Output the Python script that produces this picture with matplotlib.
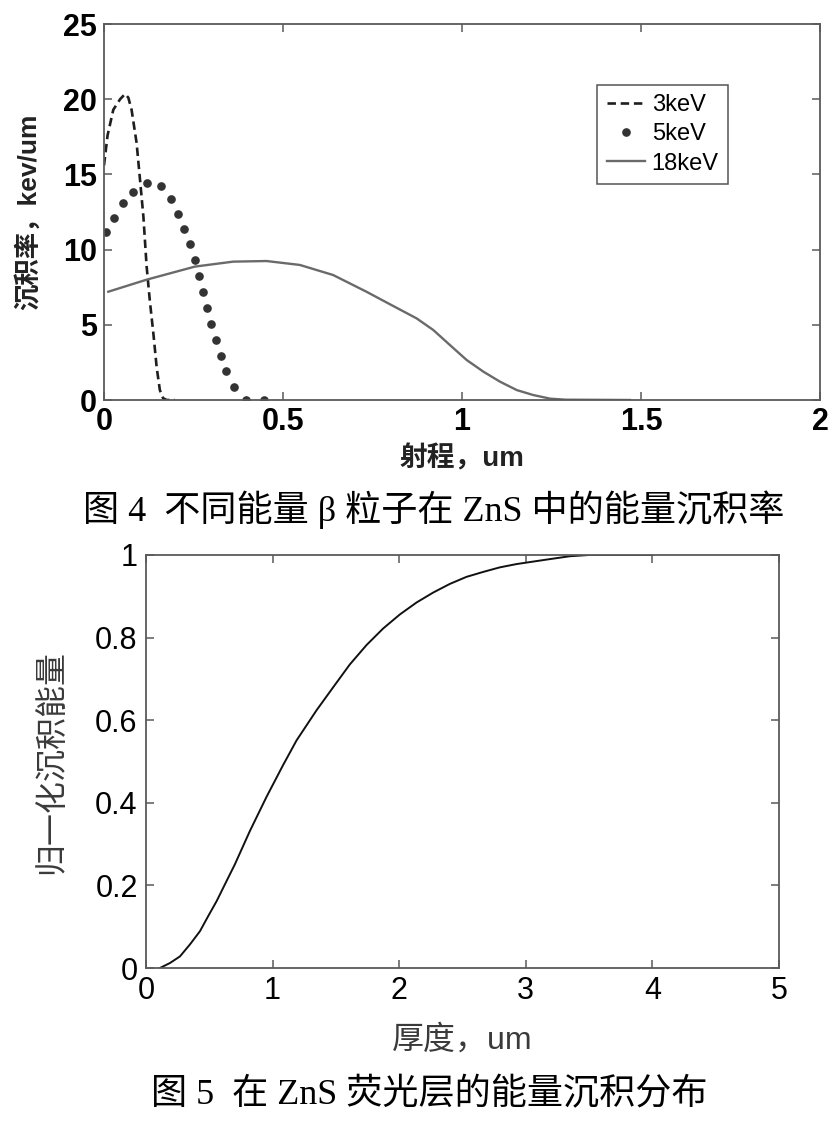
import matplotlib
matplotlib.use("Agg")
import matplotlib.pyplot as plt

plt.rcParams["font.family"] = ["Liberation Sans", "Noto Sans CJK SC", "DejaVu Sans"]

# ---- data: figure 4 (energy deposition rate) ----
x_3kev = [0, 0.01, 0.026, 0.045, 0.059, 0.068, 0.077, 0.091, 0.1, 0.11, 0.119,
          0.128, 0.138, 0.147, 0.156, 0.165, 0.175, 0.198]
y_3kev = [15.6, 17.6, 19.3, 20.0, 20.35, 20.1, 19.3, 17.1, 14.8, 12.2, 8.9,
          6.6, 4.4, 2.2, 0.66, 0.12, 0, 0]

x_5kev = [0.006, 0.028, 0.052, 0.082, 0.119, 0.158, 0.186, 0.208, 0.224, 0.240,
          0.254, 0.266, 0.277, 0.289, 0.300, 0.313, 0.326, 0.341, 0.363, 0.397, 0.448]
y_5kev = [11.2, 12.1, 13.1, 13.85, 14.45, 14.2, 13.35, 12.4, 11.4, 10.35,
          9.3, 8.25, 7.15, 6.1, 5.05, 4.0, 2.9, 1.9, 0.85, 0, 0]

x_18kev = [0.012, 0.119, 0.254, 0.361, 0.454, 0.547, 0.640, 0.733, 0.80, 0.873,
           0.92, 0.966, 1.013, 1.06, 1.106, 1.153, 1.199, 1.246, 1.29, 1.469]
y_18kev = [7.2, 8.0, 8.87, 9.2, 9.24, 8.98, 8.31, 7.2, 6.35, 5.43,
           4.65, 3.66, 2.66, 1.88, 1.22, 0.66, 0.33, 0.09, 0.02, 0]

# ---- data: figure 5 (normalised deposited energy) ----
x_norm = [0.11, 0.189, 0.268, 0.347, 0.426, 0.492, 0.558, 0.637, 0.702, 0.821,
          0.953, 1.084, 1.189, 1.347, 1.479, 1.61, 1.742, 1.873, 2.005, 2.137,
          2.268, 2.4, 2.531, 2.663, 2.794, 2.926, 3.057, 3.189, 3.347, 3.5, 4.0]
y_norm = [0, 0.012, 0.028, 0.057, 0.089, 0.126, 0.162, 0.211, 0.251, 0.332,
          0.415, 0.492, 0.551, 0.624, 0.680, 0.735, 0.782, 0.822, 0.856, 0.885,
          0.909, 0.930, 0.947, 0.959, 0.970, 0.978, 0.984, 0.990, 0.997, 1.0, 1.0]

caption4 = "图 4  不同能量 β 粒子在 ZnS 中的能量沉积率"
caption5 = "图 5  在 ZnS 荧光层的能量沉积分布"

spine_c = "#5a5a5a"
cap_family = ["Liberation Serif", "Noto Sans CJK SC"]


def style_axes(ax):
    for s in ax.spines.values():
        s.set_color(spine_c)
        s.set_linewidth(1.3)
    ax.tick_params(direction="in", top=True, right=True, length=6,
                   width=1.1, color=spine_c)


fig = plt.figure(figsize=(8.34, 11.28), dpi=100)

# top panel
ax1 = fig.add_axes([104 / 834, 1 - 400 / 1128, 716 / 834, 376 / 1128])
ax1.plot(x_3kev, y_3kev, color="#1e1e1e", lw=1.9, linestyle=(0, (3.2, 1.8)),
         label="3keV")
ax1.plot(x_5kev, y_5kev, linestyle="none", marker="o", markersize=5.2,
         color="#333333", label="5keV")
ax1.plot(x_18kev, y_18kev, color="#6a6a6a", lw=1.7, label="18keV")
ax1.set_xlim(0, 2)
ax1.set_ylim(0, 25)
ax1.set_xticks([0, 0.5, 1, 1.5, 2])
ax1.set_xticklabels(["0", "0.5", "1", "1.5", "2"])
ax1.set_yticks([0, 5, 10, 15, 20, 25])
style_axes(ax1)
ax1.tick_params(labelsize=22, pad=5)
for t in ax1.get_xticklabels() + ax1.get_yticklabels():
    t.set_fontweight("bold")
ax1.set_ylabel("沉积率，kev/um", fontsize=19, fontweight="bold", color="#222222")
ax1.yaxis.set_label_coords(-0.088, 0.5)
ax1.set_xlabel("射程，um", fontsize=20, fontweight="bold", color="#222222")
ax1.xaxis.set_label_coords(0.5, -0.12)
leg = ax1.legend(loc="upper left", bbox_to_anchor=(0.689, 0.838), fontsize=17,
                 numpoints=1, handlelength=1.6, handletextpad=0.3,
                 labelspacing=0.3, borderpad=0.4, borderaxespad=0,
                 fancybox=False, framealpha=1, edgecolor="#555555")
leg.get_frame().set_linewidth(1.1)

fig.text(0.52, 1 - 510 / 1128, caption4, ha="center", va="center",
         fontsize=26, family=cap_family)

# bottom panel
ax2 = fig.add_axes([146 / 834, 1 - 968 / 1128, 633 / 834, 413 / 1128])
ax2.plot(x_norm, y_norm, color="#111111", lw=1.4)
ax2.set_xlim(0, 5)
ax2.set_ylim(0, 1)
ax2.set_xticks([0, 1, 2, 3, 4, 5])
ax2.set_yticks([0, 0.2, 0.4, 0.6, 0.8, 1])
ax2.set_yticklabels(["0", "0.2", "0.4", "0.6", "0.8", "1"])
style_axes(ax2)
ax2.tick_params(labelsize=22, pad=6)
ax2.set_ylabel("归一化沉积能量", fontsize=23, color="#3a3a3a")
ax2.yaxis.set_label_coords(-0.125, 0.5)
ax2.set_xlabel("厚度，um", fontsize=23, color="#3a3a3a")
ax2.xaxis.set_label_coords(0.5, -0.138)

fig.text(0.515, 1 - 1095 / 1128, caption5, ha="center", va="center",
         fontsize=26, family=cap_family)

fig.savefig("out.png", dpi=100)
